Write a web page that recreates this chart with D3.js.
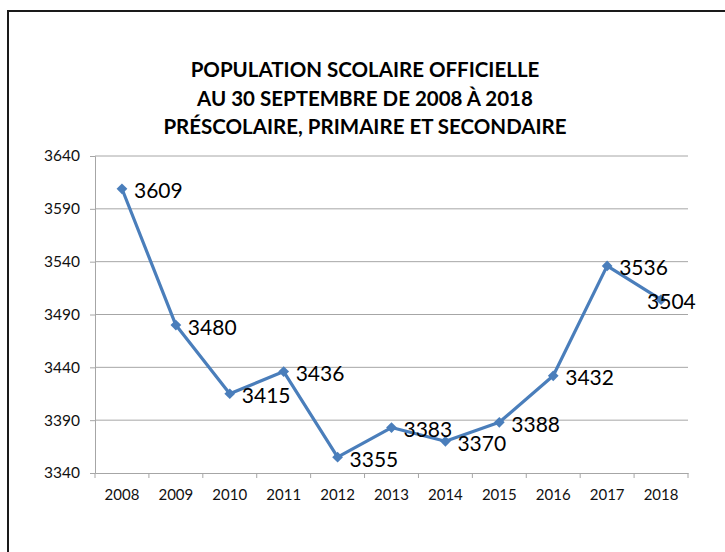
<!DOCTYPE html>
<html>
<head>
<meta charset="utf-8">
<script src="https://cdn.jsdelivr.net/npm/d3@7"></script>
<style>
    body { margin: 0; background: #fff; }
    svg { display: block; }
</style>
</head>
<body>
<svg width="725" height="552"></svg>
<script>
const years = ["2008", "2009", "2010", "2011", "2012", "2013", "2014", "2015", "2016", "2017", "2018"];
const eleves = [3609, 3480, 3415, 3436, 3355, 3383, 3370, 3388, 3432, 3536, 3504];
const yTicks = [3340, 3390, 3440, 3490, 3540, 3590, 3640];
const titleLines = [
    "POPULATION SCOLAIRE OFFICIELLE",
    "AU 30 SEPTEMBRE DE 2008 À 2018",
    "PRÉSCOLAIRE, PRIMAIRE ET SECONDAIRE"
];

const svg = d3.select("svg");
const font = "Lato, 'Open Sans', sans-serif";

const area = { left: 95, right: 688, top: 156, bottom: 473 };

// cadre du graphique
svg.append("rect")
    .attr("x", 8).attr("y", 11)
    .attr("width", 740).attr("height", 600)
    .attr("fill", "none")
    .attr("stroke", "#1a1a1a")
    .attr("stroke-width", 2);

svg.append("g")
    .selectAll("text")
    .data(titleLines)
    .enter()
    .append("text")
    .attr("x", 365)
    .attr("y", (d, i) => 77 + i * 28.5)
    .attr("text-anchor", "middle")
    .style("font-family", font)
    .style("font-weight", "bold")
    .style("font-size", "20.5px")
    .attr("fill", "#000")
    .text(d => d);

const scX = d3.scaleBand()
    .domain(years)
    .range([area.left, area.right]);

const scY = d3.scaleLinear()
    .domain([3340, 3640])
    .range([area.bottom, area.top]);

// grille
svg.append("g")
    .selectAll("line")
    .data(yTicks.slice(1))
    .enter()
    .append("line")
    .attr("x1", area.left).attr("x2", area.right)
    .attr("y1", d => scY(d)).attr("y2", d => scY(d))
    .attr("stroke", "#a6a6a6")
    .attr("stroke-width", 1);

const axisY = d3.axisLeft(scY).tickValues(yTicks).tickFormat(d3.format("d")).tickSize(5).tickPadding(10);
const gY = svg.append("g")
    .attr("transform", `translate(${area.left}, 0)`)
    .call(axisY);
gY.select(".domain").attr("stroke", "#a6a6a6");
gY.selectAll(".tick line").attr("stroke", "#a6a6a6");
gY.selectAll("text")
    .style("font-family", font)
    .style("font-size", "15.5px")
    .attr("fill", "#111");

const axisX = d3.axisBottom(scX).tickSize(0).tickPadding(16);
const gX = svg.append("g")
    .attr("transform", `translate(0, ${area.bottom})`)
    .call(axisX);
gX.select(".domain").attr("stroke", "#a6a6a6");
gX.selectAll("text")
    .style("font-family", font)
    .style("font-size", "15px")
    .attr("fill", "#111");

// petites graduations entre les années
const bounds = years.map(d => scX(d)).concat([area.right]);
gX.selectAll(".sep")
    .data(bounds)
    .enter()
    .append("line")
    .attr("class", "sep")
    .attr("x1", d => d).attr("x2", d => d)
    .attr("y1", 0).attr("y2", 5)
    .attr("stroke", "#a6a6a6");

const cx = (d, i) => scX(years[i]) + scX.bandwidth() / 2;

const line = d3.line()
    .x((d, i) => cx(d, i))
    .y(d => scY(d));

svg.append("path")
    .datum(eleves)
    .attr("d", line)
    .attr("fill", "none")
    .attr("stroke", "#4a7ebb")
    .attr("stroke-width", 3.2)
    .attr("stroke-linejoin", "round");

svg.append("g")
    .selectAll("rect")
    .data(eleves)
    .enter()
    .append("rect")
    .attr("x", -3.8).attr("y", -3.8)
    .attr("width", 7.6).attr("height", 7.6)
    .attr("transform", (d, i) => `translate(${cx(d, i)}, ${scY(d)}) rotate(45)`)
    .attr("fill", "#4a7ebb");

svg.append("g")
    .selectAll("text")
    .data(eleves)
    .enter()
    .append("text")
    .attr("x", (d, i) => cx(d, i) + (i === eleves.length - 1 ? -14 : 12))
    .attr("y", d => scY(d) + 1)
    .attr("dominant-baseline", "central")
    .style("font-family", font)
    .style("font-size", "21px")
    .attr("fill", "#000")
    .text(d => d);
</script>
</body>
</html>
